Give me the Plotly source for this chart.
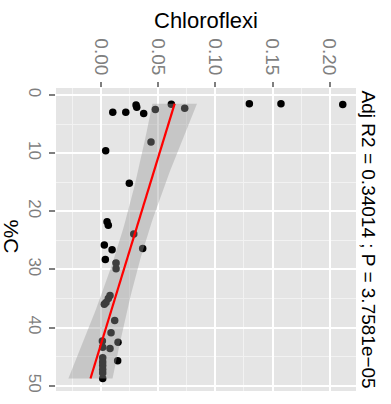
import numpy as np
import plotly.graph_objects as go

# Chloroflexi relative abundance vs %C
chloroflexi = [0.0101, 0.0215, 0.0305, 0.0311, 0.0372, 0.0474, 0.0614, 0.0731,
               0.1297, 0.1574, 0.2115, 0.0436, 0.0039, 0.0246, 0.0051, 0.0062,
               0.0285, 0.0027, 0.0095, 0.0363, 0.0036, 0.0130, 0.0130, 0.0077,
               0.0062, 0.0042, 0.0027, 0.0118, 0.0086, 0.0147, 0.0010, 0.0013,
               0.0077, 0.0144, 0.0013, 0.0013, 0.0013, 0.0013, 0.0013, 0.0013]
carbon_pct = [3.0, 3.0, 1.75, 2.1, 3.2, 2.5, 1.6, 2.3,
              1.5, 1.5, 1.65, 8.1, 9.6, 15.2, 21.8, 22.4,
              23.9, 25.8, 26.6, 26.4, 28.3, 28.9, 29.9, 34.5,
              35.0, 35.7, 36.0, 38.8, 40.9, 42.5, 42.3, 43.4,
              43.6, 45.7, 45.2, 45.9, 46.5, 47.2, 47.8, 48.75]

x_ticks = [0.00, 0.05, 0.10, 0.15, 0.20]
x_ticktext = ["0.00", "0.05", "0.10", "0.15", "0.20"]
y_ticks = [0, 10, 20, 30, 40, 50]
title_text = "Chloroflexi"
y_title = "%C"
stats_text = "Adj R2 = 0.34014 ; P = 3.7581e\u221205"

# linear fit: chloroflexi ~ %C, with 95% confidence band
cx = np.array(carbon_pct)
cy = np.array(chloroflexi)
n = len(cx)
b, a = np.polyfit(cx, cy, 1)
resid = cy - (a + b * cx)
sigma = np.sqrt(np.sum(resid ** 2) / (n - 2))
t_q = 2.018
grid = np.linspace(cx.min(), cx.max(), 80)
fit = a + b * grid
se = sigma * np.sqrt(1.0 / n + (grid - cx.mean()) ** 2 / np.sum((cx - cx.mean()) ** 2))
lower = fit - t_q * se
upper = fit + t_q * se

fig = go.Figure()
fig.add_trace(go.Scatter(x=chloroflexi, y=carbon_pct, mode="markers",
                         marker=dict(color="black", size=7.5, line=dict(width=0)),
                         showlegend=False, hoverinfo="skip"))
fig.add_trace(go.Scatter(x=np.concatenate([upper, lower[::-1]]),
                         y=np.concatenate([grid, grid[::-1]]),
                         mode="lines", fill="toself",
                         fillcolor="rgba(153,153,153,0.4)", line=dict(width=0),
                         showlegend=False, hoverinfo="skip"))
fig.add_trace(go.Scatter(x=fit, y=grid, mode="lines",
                         line=dict(color="red", width=2.2),
                         showlegend=False, hoverinfo="skip"))

font_family = "Liberation Sans, Arial, sans-serif"
fig.update_layout(
    width=391, height=404,
    margin=dict(l=56, r=35, t=88, b=11),
    paper_bgcolor="white", plot_bgcolor="#E5E5E5",
    font=dict(family=font_family),
    xaxis=dict(side="top", range=[-0.0396, 0.2231],
               tickvals=x_ticks, ticktext=x_ticktext, tickangle=90,
               ticks="outside", ticklen=5, tickwidth=1.5, tickcolor="#7F7F7F",
               tickfont=dict(size=19, color="#7F7F7F", family=font_family),
               showgrid=True, gridcolor="white", gridwidth=1.6,
               zeroline=False, showline=False,
               minor=dict(dtick=0.025, tick0=0, showgrid=True, gridcolor="#F2F2F2", gridwidth=0.8, ticks="")),
    yaxis=dict(range=[50.9, -1.19],
               tickvals=y_ticks, tickangle=90,
               ticks="outside", ticklen=6, tickwidth=1.5, tickcolor="#7F7F7F",
               tickfont=dict(size=17, color="#7F7F7F", family=font_family),
               showgrid=True, gridcolor="white", gridwidth=1.6,
               zeroline=False, showline=False,
               minor=dict(dtick=5, tick0=0, showgrid=True, gridcolor="#F2F2F2", gridwidth=0.8, ticks="")),
    annotations=[
        dict(text=title_text, xref="paper", yref="paper", x=0.5, y=1.223,
             xanchor="center", yanchor="middle", showarrow=False,
             font=dict(size=22, color="black", family=font_family)),
        dict(text=y_title, xref="paper", yref="paper", x=-0.148, y=0.511,
             xanchor="center", yanchor="middle", showarrow=False, textangle=90,
             font=dict(size=21, color="black", family=font_family)),
        dict(text=stats_text, xref="paper", yref="paper", x=1.043, y=0.5,
             xanchor="center", yanchor="middle", showarrow=False, textangle=90,
             font=dict(size=19, color="black", family=font_family)),
    ],
)

fig.write_html("out.html")
